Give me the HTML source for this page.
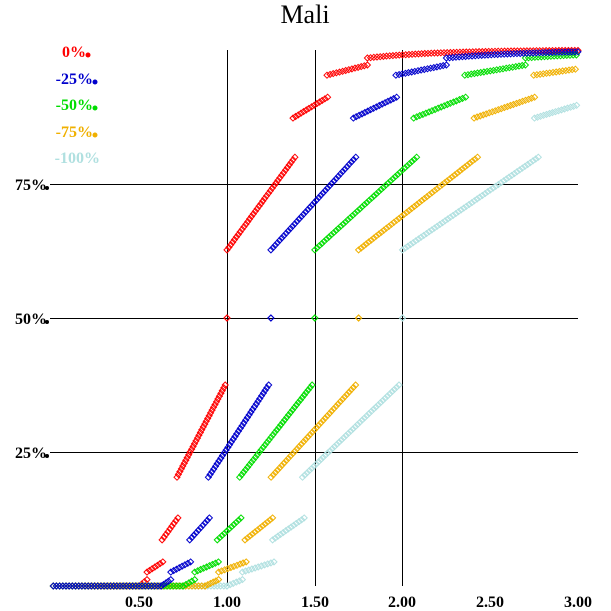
<!DOCTYPE html>
<html><head><meta charset="utf-8"><style>
html,body{margin:0;padding:0;background:#fff;}
svg{display:block;font-family:"Liberation Serif",serif;}
</style></head><body>
<svg id="s" width="611" height="611" viewBox="0 0 611 611" xmlns="http://www.w3.org/2000/svg">
<text x="305" y="23" text-anchor="middle" font-size="26">Mali</text>
<g stroke="#000" stroke-width="1">
<line x1="227.5" y1="50" x2="227.5" y2="586"/>
<line x1="315.5" y1="50" x2="315.5" y2="586"/>
<line x1="402.5" y1="50" x2="402.5" y2="586"/>
<line x1="50" y1="184.5" x2="578" y2="184.5"/>
<line x1="50" y1="318.5" x2="578" y2="318.5"/>
<line x1="50" y1="452.5" x2="578" y2="452.5"/>
</g>
<g font-size="16" font-weight="bold" text-anchor="middle">
<text x="139" y="607">0.50</text>
<text x="227" y="607">1.00</text>
<text x="315" y="607">1.50</text>
<text x="402" y="607">2.00</text>
<text x="490" y="607">2.50</text>
<text x="578" y="607">3.00</text>
</g>
<g font-size="16" font-weight="bold" text-anchor="end">
<text x="47" y="190">75%</text>
<text x="47" y="324">50%</text>
<text x="47" y="458">25%</text>
</g>
<g font-size="16" font-weight="bold" text-anchor="end">
<text x="86" y="57" fill="#ff0000">0%</text>
<text x="93" y="84" fill="#0000cc">-25%</text>
<text x="93" y="110" fill="#00dd00">-50%</text>
<text x="93" y="137" fill="#f0b000">-75%</text>
<text x="100" y="163" fill="#b0e0e0">-100%</text>
</g>
<g>
<circle cx="88" cy="55" r="2.5" fill="#ff0000"/>
<circle cx="95" cy="82" r="2.5" fill="#0000cc"/>
<circle cx="95" cy="108" r="2.5" fill="#00dd00"/>
<circle cx="95" cy="135" r="2.5" fill="#f0b000"/>
<circle cx="47" cy="188" r="2" fill="#000"/>
<circle cx="47" cy="322" r="2" fill="#000"/>
<circle cx="47" cy="456" r="2" fill="#000"/>
</g>
<g id="pts" fill="none" stroke-width="1"></g>
</svg>
<script>
var segs=[
 [0.01,0.50,0,0,'flat'],
 [0.50,0.544,0.0,0.012],
 [0.544,0.634,0.026,0.045],
 [0.63,0.72,0.086,0.127],
 [0.715,0.99,0.203,0.375],
 [1.0,1.0,0.5,0.5],
 [1.0,1.387,0.627,0.80],
 [1.376,1.573,0.873,0.912],
 [1.57,1.80,0.953,0.972],
 [1.80,3.0,0.985,0.999,'top']
];
var series=[[1,'#ff0000'],[2,'#b0e0e0'],[1.75,'#f0b000'],[1.5,'#00dd00'],[1.25,'#0000cc']];
var X=function(v){return 51.5+175.5*v;}, Y=function(v){return 586-536*v;};
var out='';
series.forEach(function(s){
 var f=s[0],c=s[1];
 segs.forEach(function(g){
  var x0=g[0]*f,x1=g[1]*f,y0=g[2],y1=g[3];
  if(g[4]==='flat'){x0=g[0];}
  if(x0>3)return;
  var px0=X(x0),py0=Y(y0),py1=Y(y1);
  var len=Math.hypot(X(x1)-px0,py1-py0);
  var n=Math.max(1,Math.round(len/3.2));
  for(var i=0;i<=n;i++){
   var t=i/n, xv=x0+(x1-x0)*t;
   if(xv>3.0)break;
   var yv;
   if(g[4]==='top'){yv=1-(1-y0)*Math.exp(-(xv/f-1.8)*2.5);} else yv=y0+(y1-y0)*t;
   var px=X(xv),py=Y(yv);
   out+='<path d="M'+(px-3).toFixed(1)+' '+py.toFixed(1)+'L'+px.toFixed(1)+' '+(py-3).toFixed(1)+'L'+(px+3).toFixed(1)+' '+py.toFixed(1)+'L'+px.toFixed(1)+' '+(py+3).toFixed(1)+'Z" stroke="'+c+'"/>';
  }
 });
});
document.getElementById('pts').innerHTML=out;
</script>
</body></html>
